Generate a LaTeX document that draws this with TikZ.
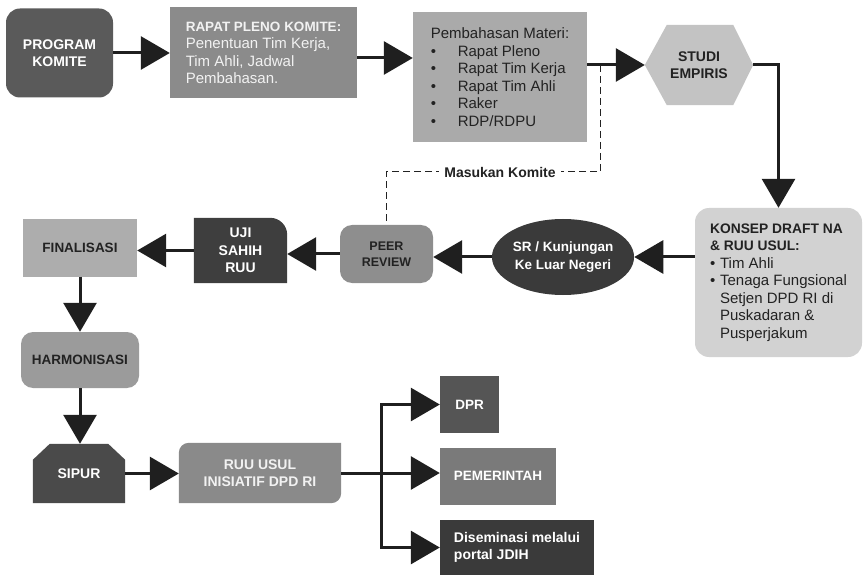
\documentclass[tikz,border=0pt]{standalone}
\usepackage{fontspec}
\setmainfont{Liberation Sans}
\usetikzlibrary{arrows.meta,shapes.geometric,backgrounds,calc}
\definecolor{cProg}{HTML}{5A5A5A}
\definecolor{cRapat}{HTML}{8B8B8B}
\definecolor{cPemb}{HTML}{AAAAAA}
\definecolor{cStudi}{HTML}{C3C3C3}
\definecolor{cKonsep}{HTML}{D2D2D2}
\definecolor{cSr}{HTML}{3A3A3A}
\definecolor{cPeer}{HTML}{8E8E8E}
\definecolor{cUji}{HTML}{3E3E3E}
\definecolor{cFin}{HTML}{ADADAD}
\definecolor{cHarm}{HTML}{9B9B9B}
\definecolor{cSipur}{HTML}{4A4A4A}
\definecolor{cRuu}{HTML}{8A8A8A}
\definecolor{cDpr}{HTML}{555555}
\definecolor{cPem}{HTML}{7A7A7A}
\definecolor{cDis}{HTML}{3A3A3A}
\definecolor{cArrow}{HTML}{1F1F1F}
\definecolor{cDark}{HTML}{222222}
\definecolor{cLight}{HTML}{F2F2F2}
\newcommand{\blt}{\makebox[27pt][l]{\textbullet}}
\newcommand{\sblt}{\makebox[10pt][l]{\textbullet}}
\begin{document}
\begin{tikzpicture}[x=1pt,y=-1pt,
  blk/.style={rectangle, inner sep=0pt, align=center},
  boldtxt/.style={font=\fontsize{14}{17.5}\selectfont\bfseries},
  regtxt/.style={font=\fontsize{15}{17.5}\selectfont},
  conn/.style={line width=3pt, draw=cArrow, -{Triangle[length=29pt,width=33pt]}},
  dashconn/.style={line width=1pt, draw=cDark, dash pattern=on 7pt off 4pt}]
\useasboundingbox (0,0) rectangle (864,577);

% --- top row
\node[blk, boldtxt, fill=cProg, text=white, rounded corners=14pt,
      minimum width=107pt, minimum height=89pt] (prog) at (59.5,53) {PROGRAM\\KOMITE};
\node[blk, regtxt, fill=cRapat, text=cLight, align=left,
      minimum width=187pt, minimum height=91pt] (rapat) at (263.5,53)
  {{\fontsize{13.5}{17.5}\selectfont\bfseries RAPAT PLENO KOMITE:}\\Penentuan Tim Kerja,\\Tim Ahli, Jadwal\\Pembahasan.};
\node[blk, regtxt, fill=cPemb, text=cDark, align=left,
      minimum width=174pt, minimum height=130pt] (pemb) at (500,77)
  {Pembahasan Materi:\\\blt Rapat Pleno\\\blt Rapat Tim Kerja\\\blt Rapat Tim Ahli\\\blt Raker\\\blt RDP/RDPU};
\node[blk, boldtxt, text=cDark, minimum width=108pt, minimum height=80pt] (studi) at (699,65) {STUDI\\EMPIRIS};
\begin{pgfonlayer}{background}
\fill[cStudi] (studi.west) -- ([xshift=22pt]studi.north west) -- ([xshift=-20pt]studi.north east)
  -- (studi.east) -- ([xshift=-20pt]studi.south east) -- ([xshift=22pt]studi.south west) -- cycle;
\end{pgfonlayer}

% --- right box
\node[blk, regtxt, fill=cKonsep, text=cDark, align=left, rounded corners=14pt,
      minimum width=167pt, minimum height=149pt] (konsep) at (778.5,282.5)
  {{\fontsize{13.8}{17.5}\selectfont\bfseries KONSEP DRAFT NA}\\
   {\fontsize{13.8}{17.5}\selectfont\bfseries \& RUU USUL:}\\
   \sblt Tim Ahli\\
   \sblt Tenaga Fungsional\\
   \hspace*{10pt}Setjen DPD RI di\\
   \hspace*{10pt}Puskadaran \&\\
   \hspace*{10pt}Pusperjakum};

% --- middle row
\node[ellipse, inner sep=0pt, align=center, fill=cSr, text=white,
      font=\fontsize{13.5}{18}\selectfont\bfseries,
      minimum width=140pt, minimum height=76pt] (sr) at (563,257) {SR / Kunjungan\\Ke Luar Negeri};
\node[blk, font=\fontsize{12.5}{16}\selectfont\bfseries, fill=cPeer, text=cDark, rounded corners=12pt,
      minimum width=93pt, minimum height=58pt] (peer) at (386.5,254) {PEER\\REVIEW};
\node[blk, boldtxt, text=white, minimum width=93pt, minimum height=65pt] (uji) at (240.5,250.5) {UJI\\SAHIH\\RUU};
\begin{pgfonlayer}{background}
\fill[cUji] (uji.south west) -- (uji.north west) -- ([xshift=-17pt]uji.north east)
  arc[start angle=90, end angle=0, radius=17pt] -- (uji.south east) -- cycle;
\end{pgfonlayer}
\node[blk, font=\fontsize{13.5}{17}\selectfont\bfseries, fill=cFin, text=cDark,
      minimum width=114pt, minimum height=57pt] (fin) at (80,248) {FINALISASI};

% --- left column and bottom row
\node[blk, font=\fontsize{13.5}{17}\selectfont\bfseries, fill=cHarm, text=cDark, rounded corners=12pt,
      minimum width=118pt, minimum height=56pt] (harm) at (80,360) {HARMONISASI};
\node[blk, boldtxt, text=white, minimum width=92pt, minimum height=59pt] (sipur) at (79,473.5) {SIPUR};
\begin{pgfonlayer}{background}
\fill[cSipur] (sipur.south west) -- ([yshift=-16pt]sipur.north west) -- ([xshift=17pt]sipur.north west)
  -- ([xshift=-17pt]sipur.north east) -- ([yshift=-16pt]sipur.north east) -- (sipur.south east) -- cycle;
\end{pgfonlayer}
\node[blk, boldtxt, text=cLight, minimum width=162pt, minimum height=60pt] (ruu) at (260,473) {RUU USUL\\INISIATIF DPD RI};
\begin{pgfonlayer}{background}
\fill[cRuu] ([yshift=-10pt]ruu.north west) arc[start angle=180, end angle=90, radius=10pt]
  -- (ruu.north east) -- ([yshift=10pt]ruu.south east) arc[start angle=0, end angle=-90, radius=10pt]
  -- (ruu.south west) -- cycle;
\end{pgfonlayer}
\node[blk, font=\fontsize{13.5}{17}\selectfont\bfseries, fill=cDpr, text=white,
      minimum width=59pt, minimum height=57pt] (dpr) at (469.5,404.5) {DPR};
\node[blk, font=\fontsize{13.5}{17}\selectfont\bfseries, fill=cPem, text=white,
      minimum width=116pt, minimum height=57pt] (pem) at (498,476) {PEMERINTAH};
\node[blk, font=\fontsize{14}{17.5}\selectfont\bfseries, fill=cDis, text=white, align=left,
      minimum width=154pt, minimum height=55pt] (dis) at (517,547.5) {Diseminasi melalui\\portal JDIH};

% --- connectors
\draw[conn] (prog.east) -- (prog.east -| rapat.west);
\draw[conn] ([yshift=-5pt]rapat.east) -- ([yshift=-5pt]rapat.east -| pemb.west);
\draw[conn] (pemb.east |- studi.west) -- (studi.west);
\draw[conn] (studi.east) -| (konsep.north);
\draw[conn] (konsep.west |- sr.east) -- (sr.east);
\draw[conn] (sr.west) -- (sr.west -| peer.east);
\draw[conn] (peer.west) -- (peer.west -| uji.east);
\draw[conn] (uji.west) -- (uji.west -| fin.east);
\draw[conn] (fin.south) -- (fin.south |- harm.north);
\draw[conn] (harm.south) -- (harm.south |- sipur.north);
\draw[conn] (sipur.east) -- (sipur.east -| ruu.west);
\coordinate (split) at (381,473);
\draw[line width=3pt, draw=cArrow] (ruu.east) -- (split);
\draw[conn] (split) |- (dpr.west);
\draw[conn] (split) -- (split -| pem.west);
\draw[conn] (split) |- (dis.west);

% --- dashed feedback
\coordinate (dtop) at (600,65);
\coordinate (dc1) at (600,172);
\coordinate (dc2) at (peer.north |- dc1);
\draw[dashconn] (dtop) -- (dc1) -- (dc2) -- (peer.north);
\node[fill=white, inner xsep=5pt, inner ysep=1pt, text=cDark,
      font=\fontsize{14}{17}\selectfont\bfseries] (mk) at (500,172) {Masukan Komite};
\end{tikzpicture}
\end{document}
